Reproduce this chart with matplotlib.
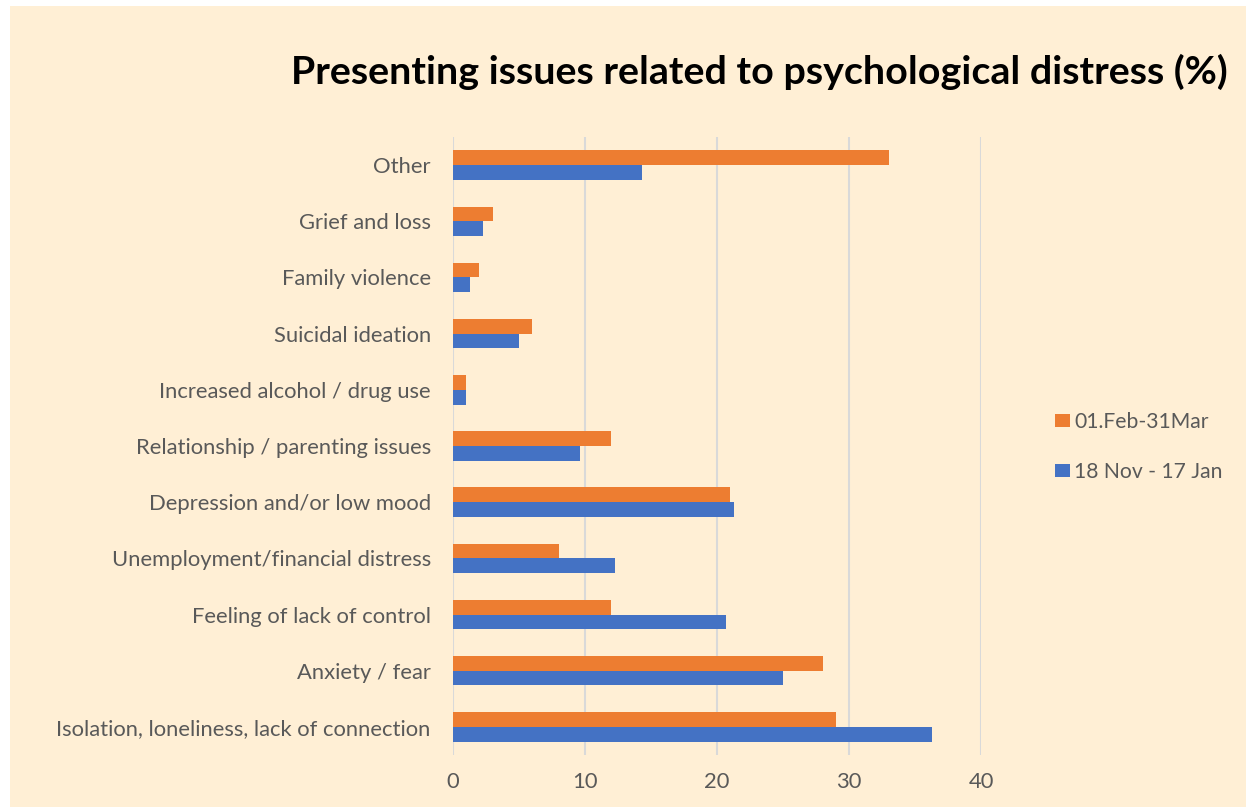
import matplotlib.pyplot as plt
import numpy as np

# data (percent)
categories = ["Isolation, loneliness, lack of connection", "Anxiety / fear",
              "Feeling of lack of control", "Unemployment/financial distress",
              "Depression and/or low mood", "Relationship / parenting issues",
              "Increased alcohol / drug use", "Suicidal ideation",
              "Family violence", "Grief and loss", "Other"]
nov_jan = [36.3, 25.0, 20.7, 12.3, 21.3, 9.6, 1.0, 5.0, 1.3, 2.3, 14.3]
feb_mar = [29.0, 28.0, 12.0, 8.0, 21.0, 12.0, 1.0, 6.0, 2.0, 3.0, 33.0]
series_names = ["01.Feb-31Mar", "18 Nov - 17 Jan"]
xticks = [0, 10, 20, 30, 40]

bg = "#FFEFD5"
txt = "#595959"
plt.rcParams['font.family'] = ['Lato', 'DejaVu Sans']

fig = plt.figure(figsize=(12.46, 8.07), dpi=100, facecolor="white")
# peach chart area with a thin white margin top/left
fig.patches.append(plt.Rectangle((10/1246, 0), 1 - 10/1246, 1 - 6/807,
                                 transform=fig.transFigure, facecolor=bg,
                                 edgecolor='none', zorder=-10))

ax = fig.add_axes([453/1246, 1-755/807, (981-453)/1246, (755-137)/807])
ax.set_facecolor(bg)

y = np.arange(len(categories))
h = 0.262
b2 = ax.barh(y + h/2, feb_mar, height=h, color="#ED7D31", label=series_names[0], zorder=3)
b1 = ax.barh(y - h/2, nov_jan, height=h, color="#4472C4", label=series_names[1], zorder=3)

ax.set_xlim(0, 40)
ax.set_ylim(-0.5, len(categories) - 0.5)
ax.set_xticks(xticks)
ax.set_yticks(y)
ax.set_yticklabels(categories)
ax.grid(axis='x', color="#D9D9D9", linewidth=1.5, zorder=0)
for s in ax.spines.values():
    s.set_visible(False)
ax.tick_params(axis='y', length=0, pad=16, labelsize=15.8, labelcolor=txt)
ax.tick_params(axis='x', length=0, pad=12, labelsize=15.8, labelcolor=txt)

fig.text(759/1246, 1-72/807, "Presenting issues related to psychological distress (%)",
         ha='center', va='center', fontsize=28.4, fontweight='bold', color='black')

leg = fig.legend(handles=[b2, b1], loc='center left', bbox_to_anchor=(1036/1246, 1-447/807),
                 frameon=False, fontsize=15.2, labelspacing=1.4, handlelength=0.72,
                 handleheight=0.55, handletextpad=0.2)
for t in leg.get_texts():
    t.set_color(txt)

fig.savefig("out.png", dpi=100, facecolor="white")
